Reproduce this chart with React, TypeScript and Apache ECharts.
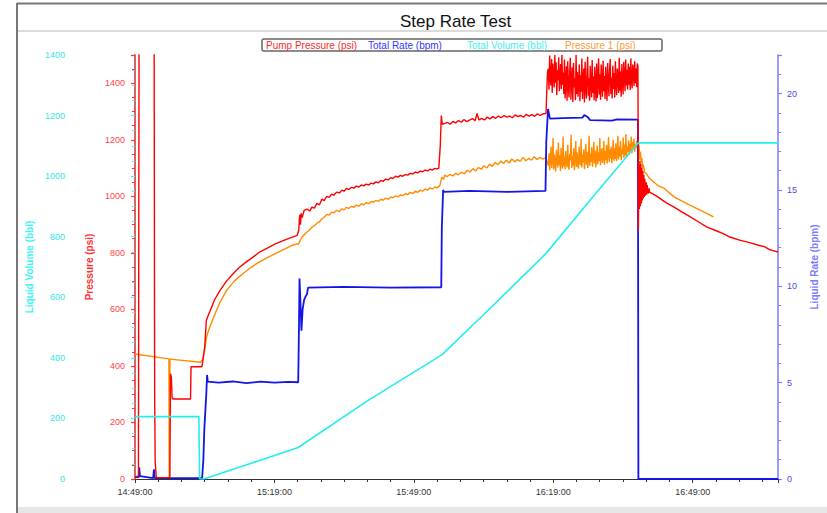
import React, { useEffect, useRef } from "react";
import * as echarts from "echarts";

// Elapsed time is stored in minutes from 14:49:00.
const START_CLOCK_MIN = 14 * 60 + 49;
const X_MAX = 138.36;
const X_TICK = 30;

const TITLE = "Step Rate Test";
const SERIES_NAMES = ["Pump Pressure (psi)", "Total Rate (bpm)", "Total Volume (bbl)", "Pressure 1 (psi)"];

// Pump pressure (psi): [minutes, psi]
const pumpBeforeHF: [number, number][] = [
  [0, 8], [0.74, 10], [0.91, 2000], [4.08, 2000], [4.23, 300], [4.34, 60], [4.59, 5],
  [7.51, 5], [7.62, 373], [7.83, 360], [7.98, 290], [8.15, 283], [11.95, 283], [12.06, 397],
  [14.39, 397], [14.6, 420], [15.02, 470], [15.34, 560], [15.66, 575], [16.23, 597], [17.14, 635],
  [18.34, 668], [19.68, 700], [21.16, 727], [22.43, 748], [23.97, 768], [25.39, 785], [26.81, 803],
  [28.56, 818], [30.32, 833], [32.16, 845], [33.85, 856], [34.91, 862], [35.23, 880], [35.44, 935],
  [35.61, 900], [35.75, 940], [35.97, 925], [36.39, 950],
  [37.02, 955], [37.6, 948], [38.08, 962], [38.6, 958], [39.14, 975], [39.7, 970], [40.2, 990],
  [40.7, 985], [41.26, 1000], [41.8, 996], [42.3, 1008], [42.8, 1004], [43.37, 1015], [44.0, 1012],
  [44.5, 1022], [45.0, 1018], [45.49, 1028], [46.0, 1024], [46.6, 1032], [47.1, 1029], [47.61, 1036],
  [48.2, 1033], [48.7, 1040], [49.2, 1037], [49.72, 1043], [50.3, 1040], [50.8, 1047], [51.3, 1044],
  [51.84, 1051], [52.4, 1048], [52.9, 1056], [53.4, 1053], [53.95, 1061], [54.5, 1058], [55.0, 1066],
  [55.5, 1063], [56.07, 1071], [56.6, 1068], [57.1, 1074], [57.6, 1071], [58.18, 1077], [58.7, 1075],
  [59.2, 1081], [59.8, 1079], [60.3, 1086], [60.8, 1083], [61.4, 1089], [61.9, 1087], [62.42, 1093],
  [63.0, 1090], [63.5, 1096], [64.0, 1093], [64.53, 1099], [65.0, 1097], [65.38, 1100],
  [65.69, 1180], [65.91, 1286], [66.12, 1255], [66.65, 1258], [67.2, 1262], [67.8, 1255], [68.4, 1265],
  [69.0, 1260], [69.6, 1268], [70.2, 1262], [70.8, 1272], [71.4, 1264], [72.0, 1270], [72.6, 1275],
  [73.2, 1268], [73.6, 1293], [74.0, 1270], [74.6, 1276], [75.2, 1270], [75.8, 1280], [76.4, 1274],
  [77.0, 1282], [77.6, 1276], [78.2, 1284], [78.8, 1278], [79.4, 1286], [80.0, 1280], [80.6, 1284],
  [81.2, 1278], [81.8, 1288], [82.4, 1282], [83.0, 1286], [83.6, 1280], [84.2, 1290], [84.8, 1284],
  [85.4, 1289], [86.0, 1283], [86.6, 1292], [87.2, 1286], [87.8, 1292], [88.44, 1293], [88.76, 1440],
];

// High-rate logging window of the last step (even sample spacing)
const HF_START = 88.95;
const HF_END = 108.22;

const pumpHF: number[] = [
  1452, 1378, 1498, 1415, 1392, 1486, 1366, 1470, 1430, 1385, 1500, 1402, 1474, 1358, 1446, 1410, 1492, 1372, 1420, 1468, 1380, 1500, 1395, 1438, 1362,
  1484, 1346, 1412, 1460, 1338, 1478, 1395, 1350, 1430, 1490, 1342, 1405, 1456, 1334, 1472, 1385, 1418, 1340, 1500, 1362, 1440, 1352, 1398, 1466, 1336,
  1428, 1370, 1488, 1344, 1410, 1452, 1332, 1476, 1380, 1346, 1436, 1494, 1356, 1418, 1338, 1462, 1402, 1350, 1482, 1366, 1424, 1340, 1458, 1390, 1336,
  1470, 1348, 1415, 1488, 1360, 1432, 1342, 1466, 1398, 1352, 1480, 1372, 1426, 1344, 1458, 1390, 1338, 1472, 1408, 1354, 1444, 1486, 1362, 1420, 1346,
  1462, 1380, 1436, 1350, 1478, 1398, 1358, 1452, 1422, 1366, 1490, 1374, 1442, 1352, 1468, 1404, 1360, 1476, 1430, 1372, 1484, 1392, 1448, 1378, 1470,
  1395, 1458, 1376, 1488, 1410, 1382, 1466, 1440, 1390, 1478, 1400, 1452, 1386, 1470, 1462,
];

const pumpAfterHF: [number, number][] = [
  [108.32, 880], [108.43, 1110], [108.54, 955], [108.64, 1125], [108.75, 965], [108.85, 1115],
  [108.96, 975], [109.06, 1100], [109.17, 985], [109.28, 1090], [109.38, 992], [109.49, 1075],
  [109.59, 998], [109.7, 1062], [109.81, 1002], [110.02, 1050], [110.12, 1006], [110.23, 1040],
  [110.44, 1010], [110.65, 1028], [110.71, 1015], [111.5, 1008], [112.49, 998], [114.25, 978],
  [116.0, 962], [117.63, 945], [119.5, 927], [121.2, 910], [123.07, 891], [124.8, 880], [126.58, 868],
  [128.0, 856], [130.1, 845], [132.26, 836], [134.35, 826], [135.4, 822], [136.46, 812], [137.3, 808],
  [138.36, 803],
];

// Pressure 1 (psi)
const p1BeforeHF: [number, number][] = [
  [0, 442], [7.3, 425], [7.36, 5], [7.47, 5], [7.53, 424], [14.11, 413], [14.6, 425], [15.02, 460],
  [15.44, 505], [15.87, 527], [16.93, 573], [18.2, 622], [19.74, 668], [21.37, 700], [23.27, 727],
  [24.96, 749], [26.81, 768], [28.56, 784], [30.32, 798], [32.16, 813], [33.85, 827], [35.27, 833],
  [35.54, 845], [35.97, 856], [36.5, 866], [37.02, 874], [37.5, 880], [38.08, 891], [38.6, 896],
  [39.14, 905], [39.7, 910], [40.2, 920], [40.7, 926], [41.26, 936], [41.8, 934], [42.3, 944],
  [42.8, 942], [43.37, 950], [44.0, 946], [44.5, 956], [45.0, 952], [45.49, 961], [46.0, 957],
  [46.6, 965], [47.1, 961], [47.61, 969], [48.2, 965], [48.7, 974], [49.2, 970], [49.72, 978],
  [50.3, 974], [50.8, 982], [51.3, 979], [51.84, 986], [52.4, 982], [52.9, 990], [53.4, 986],
  [53.95, 994], [54.5, 990], [55.0, 998], [55.5, 995], [56.07, 1002], [56.6, 998], [57.1, 1006],
  [57.6, 1002], [58.18, 1010], [58.7, 1006], [59.2, 1014], [59.8, 1010], [60.3, 1018], [60.8, 1014],
  [61.4, 1022], [61.9, 1018], [62.42, 1026], [63.0, 1022], [63.5, 1030], [64.0, 1026], [64.53, 1033],
  [65.0, 1030], [65.59, 1038], [66.02, 1068], [66.4, 1060], [66.65, 1075], [67.2, 1070], [67.8, 1078],
  [68.4, 1072], [69.0, 1082], [69.6, 1076], [70.2, 1085], [70.88, 1080], [71.5, 1092], [72.1, 1086],
  [72.7, 1098], [73.3, 1090], [73.9, 1102], [74.5, 1096], [75.11, 1108], [75.7, 1100], [76.3, 1114],
  [76.9, 1106], [77.5, 1120], [78.1, 1112], [78.7, 1125], [79.3, 1116], [79.9, 1128], [80.5, 1118],
  [81.1, 1132], [81.7, 1122], [82.3, 1130], [82.9, 1124], [83.5, 1138], [84.1, 1126], [84.7, 1134],
  [85.3, 1128], [85.9, 1140], [86.5, 1130], [87.1, 1138], [87.7, 1132], [88.44, 1136],
];

const p1HF: number[] = [
  1108, 1152, 1092, 1138, 1176, 1100, 1125, 1206, 1095, 1148, 1118, 1088, 1165, 1132, 1102, 1190, 1110, 1145, 1090, 1172, 1120, 1098, 1212, 1106, 1140,
  1096, 1160, 1124, 1102, 1182, 1112, 1094, 1150, 1128, 1218, 1100, 1142, 1108, 1170, 1092, 1134, 1196, 1104, 1156, 1118, 1098, 1176, 1126, 1110, 1204,
  1102, 1148, 1120, 1166, 1096, 1138, 1186, 1112, 1158, 1100, 1130, 1214, 1108, 1150, 1122, 1174, 1104, 1140, 1192, 1116, 1162, 1102, 1136, 1180, 1114,
  1156, 1124, 1206, 1110, 1146, 1170, 1118, 1138, 1196, 1112, 1160, 1128, 1182, 1116, 1150, 1210, 1122, 1166, 1134, 1176, 1118, 1148, 1200, 1126, 1170,
  1132, 1188, 1124, 1158, 1214, 1130, 1176, 1140, 1196, 1128, 1166, 1150, 1208, 1136, 1182, 1144, 1220, 1138, 1176, 1156, 1198, 1146, 1186, 1160, 1212,
  1152, 1192, 1164, 1204, 1158, 1184, 1170, 1196, 1176, 1188,
];

const p1AfterHF: [number, number][] = [
  [108.47, 1178], [108.64, 1130], [108.75, 1158], [108.96, 1118], [109.06, 1135], [109.28, 1100],
  [109.38, 1112], [109.66, 1085], [110.02, 1080], [110.6, 1066], [111.3, 1055], [112.5, 1038],
  [113.9, 1028], [116.0, 998], [117.8, 982], [119.5, 968], [121.5, 952], [123.0, 940], [124.47, 927],
];

// Total rate (bpm)
const totalRate: [number, number][] = [
  [0, 0.1], [0.78, 0.1], [0.91, 0.6], [1.06, 0.15], [3.91, 0.05], [4.08, 0.5], [4.23, 0.05],
  [14.45, 0.05], [14.71, 1.0], [14.92, 2.6], [15.13, 3.5], [15.34, 4.4], [15.51, 5.4], [15.66, 5.05],
  [18, 5.0], [21, 5.06], [24, 4.98], [27, 5.05], [30, 5.0], [33, 5.04], [35.12, 5.02], [35.29, 8.0],
  [35.4, 10.4], [35.55, 9.5], [35.82, 7.7], [36.07, 8.8], [36.39, 9.3], [36.67, 9.45], [37.02, 9.6],
  [37.24, 9.93], [45, 9.97], [55, 9.93], [65.9, 9.95], [66.02, 13.0], [66.3, 15.0], [66.44, 14.9],
  [72, 14.95], [80, 14.9], [88.33, 14.95], [88.5, 17.5], [88.87, 19.2], [89.29, 18.7], [92, 18.72],
  [96.27, 18.75], [96.69, 18.88], [97.32, 18.8], [97.95, 18.62], [102.6, 18.6], [103.7, 18.66],
  [108.22, 18.65], [108.32, 0], [138.36, 0],
];

// Total volume (bbl)
const totalVolume: [number, number][] = [
  [0, 206], [13.75, 206], [13.9, 0], [14.81, 0], [25, 52], [35.12, 104], [50, 258], [66.02, 410],
  [77, 572], [88.44, 745], [98, 922], [108.32, 1110], [138.36, 1110],
];

const spreadHF = (vals: number[]): [number, number][] =>
  vals.map((v, i) => [HF_START + (i * (HF_END - HF_START)) / (vals.length - 1), v]);

const FONT = "Liberation Sans, Arial, sans-serif";

const COLORS = {
  pump: "#ff0000",
  rate: "#1414e6",
  volume: "#22eeee",
  p1: "#ff8c00",
};

const clock = (v: number) => {
  const m = Math.round(START_CLOCK_MIN + v);
  const h = Math.floor(m / 60);
  const mm = m % 60;
  return `${h}:${mm < 10 ? "0" : ""}${mm}:00`;
};

const plain = (v: number) => String(v);

const LEGEND_X = [266, 368, 467, 565];
const LEGEND_COLORS = ["#ff2a2a", "#3434ff", "#44eeee", "#ff9a33"];

function buildOption(): echarts.EChartsOption {
  const valueAxis = (color: string, labelColor: string, name: string, extra: Record<string, unknown>) => ({
    type: "value" as const,
    name,
    nameLocation: "middle" as const,
    nameRotate: 90,
    nameTextStyle: { color, fontFamily: FONT, fontSize: 10, fontWeight: "bold" as const },
    splitLine: { show: false },
    axisLine: { show: true, lineStyle: { color, width: 1.5 } },
    axisTick: { show: true, length: 4, lineStyle: { color, width: 1.2 } },
    ...extra,
  });

  return {
    animation: false,
    backgroundColor: "#ffffff",
    title: {
      text: TITLE,
      left: 395,
      top: 8,
      textStyle: { fontFamily: FONT, fontSize: 17, fontWeight: "normal", color: "#111" },
    },
    grid: { left: 135, right: 38, top: 55, bottom: 34, containLabel: false },
    xAxis: {
      type: "value",
      min: 0,
      max: X_MAX,
      interval: X_TICK,
      splitLine: { show: false },
      axisLine: { lineStyle: { color: "#333", width: 1 } },
      axisTick: { length: 4, lineStyle: { color: "#333" } },
      minorTick: { show: true, splitNumber: 6, length: 3, lineStyle: { color: "#333" } },
      axisLabel: {
        color: "#333",
        fontFamily: FONT,
        fontSize: 9,
        margin: 8,
        showMaxLabel: false,
        formatter: (v: number) => clock(v),
      },
    },
    yAxis: [
      valueAxis("#3ff5f5", "#33e6e6", "Liquid Volume (bbl)", {
        position: "left",
        offset: 60,
        min: 0,
        max: 1400,
        interval: 200,
        nameGap: 33,
        minorTick: { show: true, splitNumber: 4, length: 3, lineStyle: { color: "#3ff5f5" } },
        axisLabel: { color: "#33e6e6", fontFamily: FONT, fontSize: 9, margin: 10, formatter: plain },
      }),
      valueAxis("#ff3030", "#ff4545", "Pressure (psi)", {
        position: "left",
        offset: 0,
        min: 0,
        max: 1500,
        interval: 200,
        nameGap: 37,
        minorTick: { show: true, splitNumber: 4, length: 3, lineStyle: { color: "#ff3030" } },
        axisLabel: { color: "#ff4545", fontFamily: FONT, fontSize: 9, margin: 10, showMaxLabel: false, formatter: plain },
      }),
      valueAxis("#7c7cff", "#4a4ae0", "Liquid Rate (bpm)", {
        position: "right",
        offset: 0,
        min: 0,
        max: 22,
        interval: 5,
        nameGap: 31,
        minorTick: { show: true, splitNumber: 5, length: 3, lineStyle: { color: "#7c7cff" } },
        axisLabel: { color: "#4a4ae0", fontFamily: FONT, fontSize: 9, margin: 9, showMaxLabel: false, formatter: plain },
      }),
    ],
    graphic: [
      // page frame
      { type: "line", shape: { x1: 17, y1: 3, x2: 17, y2: 513 }, style: { stroke: "#777", lineWidth: 2 } },
      { type: "line", shape: { x1: 17, y1: 3.5, x2: 827, y2: 3.5 }, style: { stroke: "#777", lineWidth: 2 } },
      { type: "line", shape: { x1: 18, y1: 31, x2: 827, y2: 31 }, style: { stroke: "#cfcfcf", lineWidth: 1.5 } },
      { type: "rect", shape: { x: 18, y: 507, width: 809, height: 6 }, style: { fill: "#e6e6e6" } },
      // legend box
      {
        type: "rect",
        shape: { x: 262, y: 39, width: 400, height: 12, r: 2 },
        style: { fill: "#fff", stroke: "#666", lineWidth: 1.5 },
      },
      ...SERIES_NAMES.map((n, i) => ({
        type: "text" as const,
        x: LEGEND_X[i],
        y: 45,
        style: {
          text: n,
          fill: LEGEND_COLORS[i],
          fontFamily: FONT,
          fontSize: 10,
          verticalAlign: "middle" as const,
        },
      })),
    ],
    series: [
      {
        name: SERIES_NAMES[0],
        type: "line",
        yAxisIndex: 1,
        symbol: "none",
        z: 4,
        lineStyle: { color: COLORS.pump, width: 1.4 },
        data: [...pumpBeforeHF, ...spreadHF(pumpHF), ...pumpAfterHF],
      },
      {
        name: SERIES_NAMES[1],
        type: "line",
        yAxisIndex: 2,
        symbol: "none",
        z: 3,
        lineStyle: { color: COLORS.rate, width: 1.8 },
        data: totalRate,
      },
      {
        name: SERIES_NAMES[2],
        type: "line",
        yAxisIndex: 0,
        symbol: "none",
        z: 5,
        lineStyle: { color: COLORS.volume, width: 1.6 },
        data: totalVolume,
      },
      {
        name: SERIES_NAMES[3],
        type: "line",
        yAxisIndex: 1,
        symbol: "none",
        z: 2,
        lineStyle: { color: COLORS.p1, width: 1.4 },
        data: [...p1BeforeHF, ...spreadHF(p1HF), ...p1AfterHF],
      },
    ],
  };
}

export default function App() {
  const ref = useRef<HTMLDivElement>(null);
  useEffect(() => {
    if (!ref.current) return;
    const chart = echarts.init(ref.current, null, { renderer: "svg" });
    chart.setOption(buildOption());
    return () => chart.dispose();
  }, []);
  return (
    <div
      ref={ref}
      style={{ position: "fixed", left: 0, top: 0, width: 827, height: 513, background: "#fff" }}
    />
  );
}
